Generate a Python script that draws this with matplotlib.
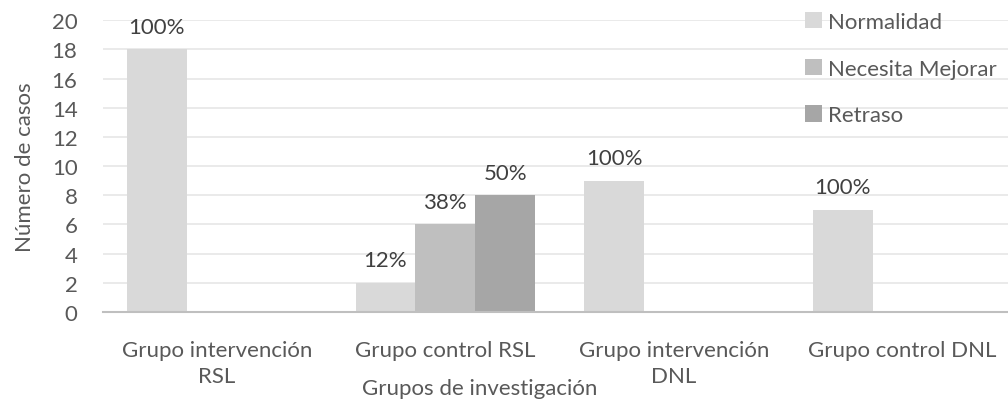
import numpy as np
import matplotlib
matplotlib.use("Agg")
import matplotlib.pyplot as plt

categories = ["Grupo intervención\nRSL", "Grupo control RSL",
              "Grupo intervención\nDNL", "Grupo control DNL"]
series_names = ["Normalidad", "Necesita Mejorar", "Retraso"]
normalidad = [18, 2, 9, 7]
necesita_mejorar = [0, 6, 0, 0]
retraso = [0, 8, 0, 0]
labels_normalidad = ["100%", "12%", "100%", "100%"]
labels_necesita = ["", "38%", "", ""]
labels_retraso = ["", "50%", "", ""]

colors = ["#d9d9d9", "#bfbfbf", "#a6a6a6"]
text_color = "#595959"

plt.rcParams["font.family"] = ["Lato", "DejaVu Sans"]
fs = 16

fig = plt.figure(figsize=(10.08, 4.02), dpi=100)
ax = fig.add_axes([0.1017, 0.2214, 0.907, 0.726])

x = np.arange(len(categories))
width = 0.262
all_series = [normalidad, necesita_mejorar, retraso]
all_labels = [labels_normalidad, labels_necesita, labels_retraso]
for i, (vals, labs) in enumerate(zip(all_series, all_labels)):
    pos = x + (i - 1) * width
    bars = ax.bar(pos, vals, width, color=colors[i], label=series_names[i], zorder=2)
    for b, v, lab in zip(bars, vals, labs):
        if lab:
            ax.annotate(lab, (b.get_x() + b.get_width() / 2, v), xytext=(0, 9),
                        textcoords="offset points", ha="center", va="bottom",
                        fontsize=fs, color="#404040")

ax.set_xlim(-0.5, len(categories) - 0.5)
ax.set_ylim(0, 20)
ax.set_yticks(range(0, 21, 2))
ax.set_xticks(x)
ax.set_xticklabels(categories, fontsize=fs, color=text_color, linespacing=1.4)
ax.tick_params(axis="y", labelsize=fs, labelcolor=text_color, length=0, pad=18)
ax.tick_params(axis="x", length=0, pad=20)
ax.grid(axis="y", color="#e6e6e6", linewidth=1.2, zorder=0)
for s in ["top", "right", "left"]:
    ax.spines[s].set_visible(False)
ax.spines["bottom"].set_color("#bfbfbf")
ax.spines["bottom"].set_linewidth(1.5)

ax.set_ylabel("Número de casos", fontsize=fs, color=text_color, labelpad=12)
fig.text(480 / 1008, 1 - 389 / 402, "Grupos de investigación", ha="center",
         va="center", fontsize=fs, color=text_color)

leg = ax.legend(loc="upper left", bbox_to_anchor=(805 / 1008, 1 - 13 / 402),
                bbox_transform=fig.transFigure, frameon=False, fontsize=fs,
                labelspacing=1.2, handlelength=0.75, handleheight=0.75,
                handletextpad=0.3, borderaxespad=0, borderpad=0)
for t in leg.get_texts():
    t.set_color(text_color)

fig.savefig("out.png", dpi=100)
